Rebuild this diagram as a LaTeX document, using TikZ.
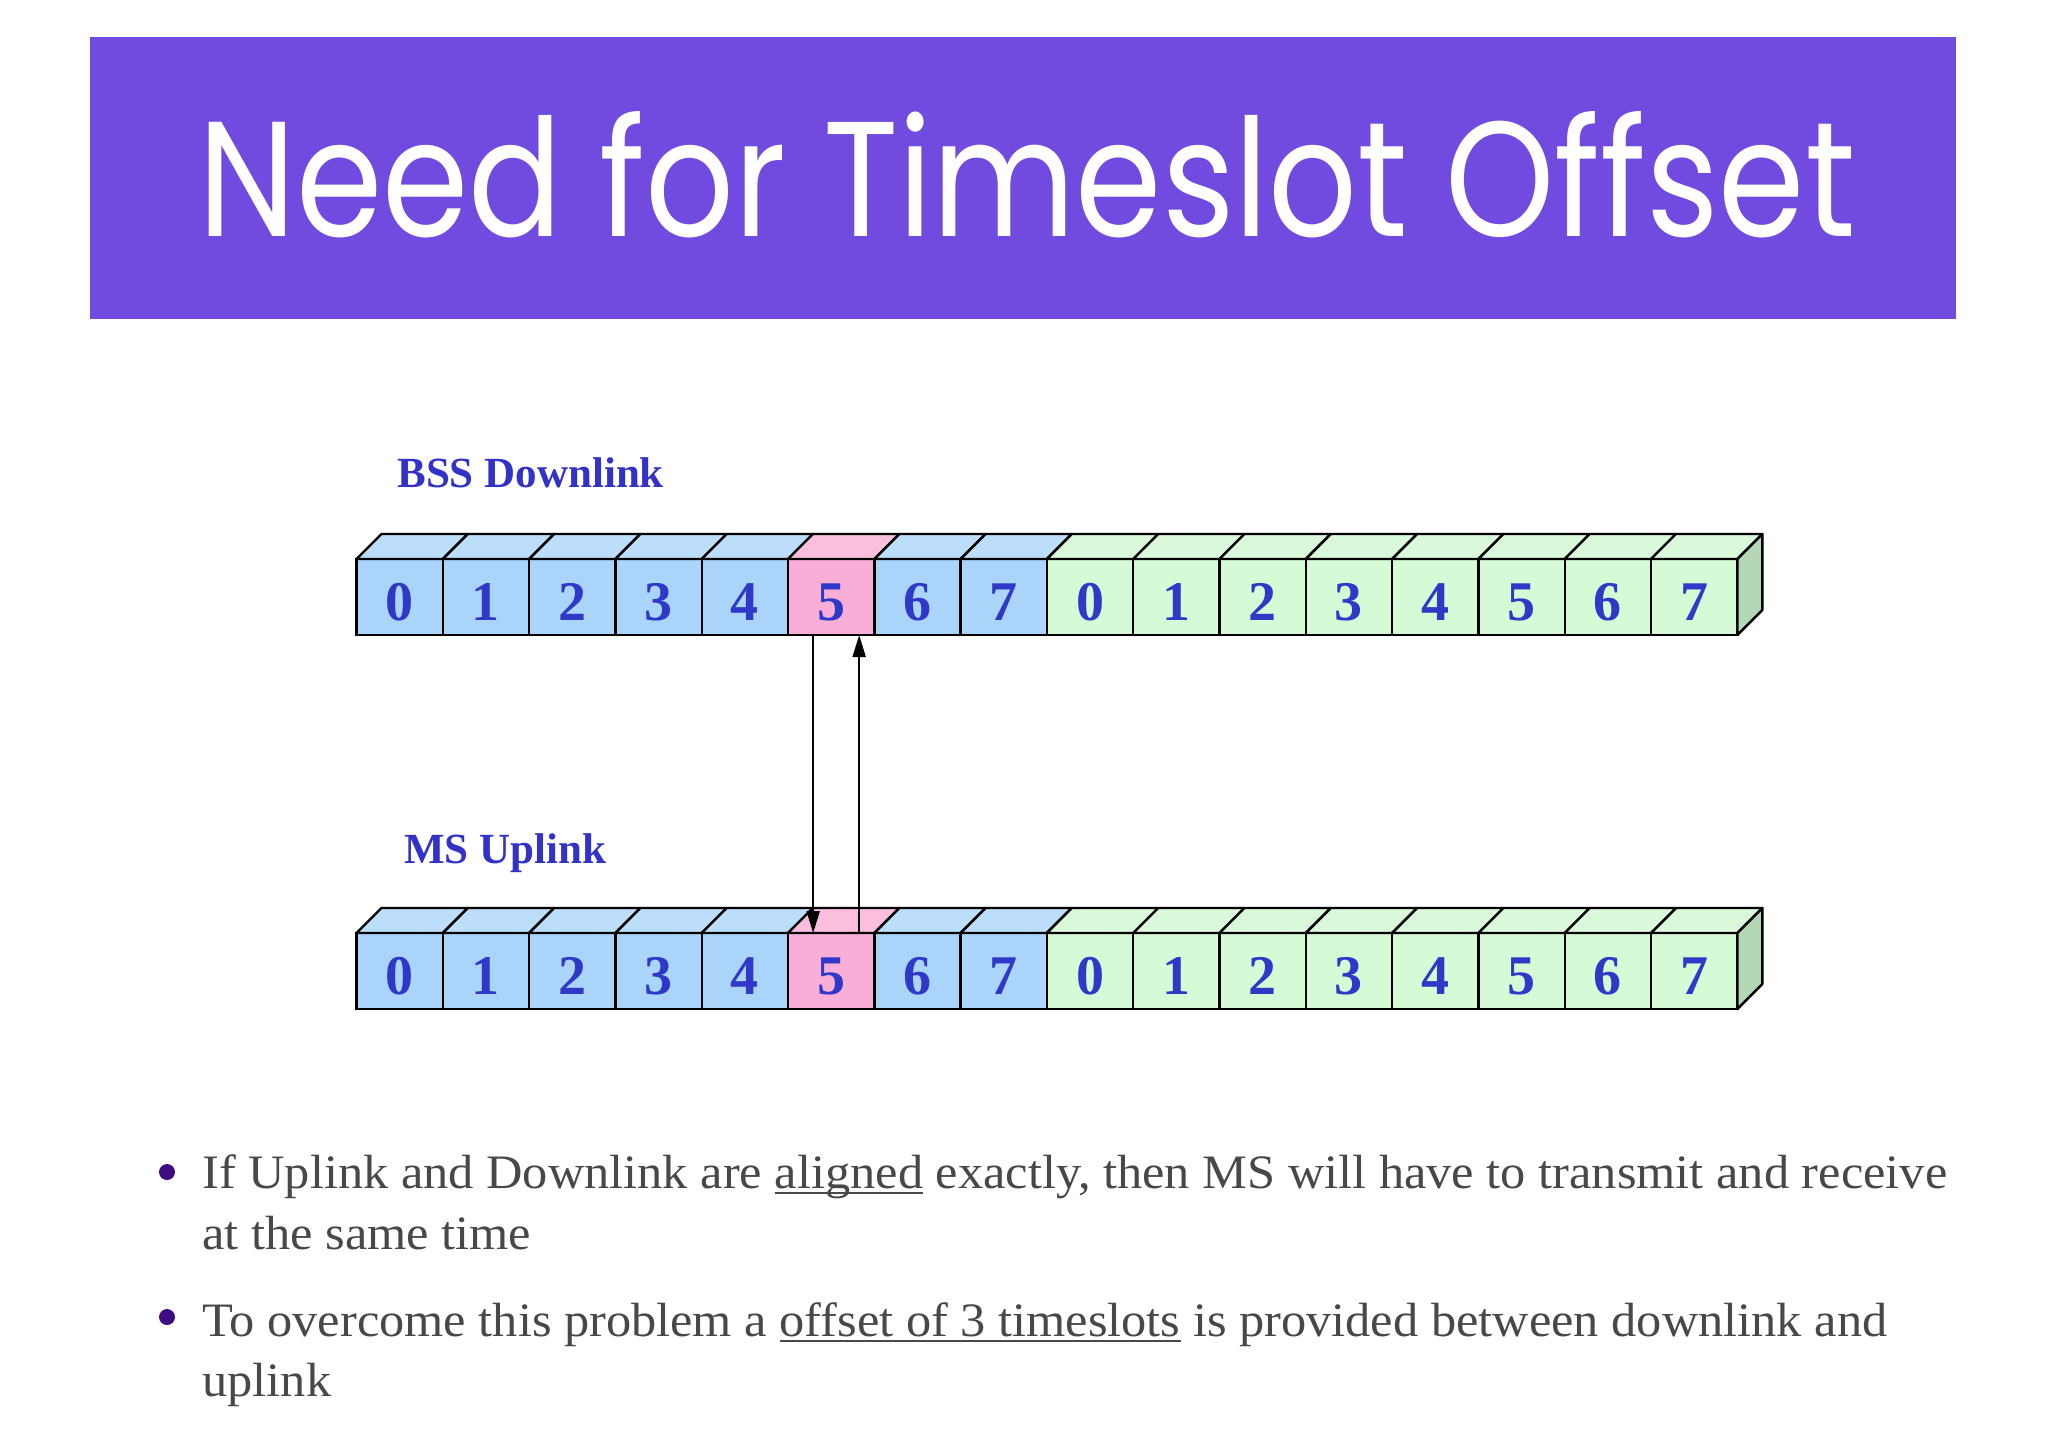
\documentclass[tikz,border=0pt]{standalone}
\usepackage{fontspec}
\usepackage{graphicx}
\usetikzlibrary{arrows.meta}
\newfontfamily\titlefont{Poppins}
\newfontfamily\tnr{Liberation Serif}
\newfontfamily\bodyfont[FakeStretch=1.05]{Liberation Serif}
\definecolor{banner}{RGB}{113,74,224}
\definecolor{blueF}{RGB}{170,212,250}
\definecolor{blueT}{RGB}{188,222,251}
\definecolor{pinkF}{RGB}{249,174,216}
\definecolor{pinkT}{RGB}{251,190,221}
\definecolor{greenF}{RGB}{213,250,213}
\definecolor{greenT}{RGB}{218,248,218}
\definecolor{sideG}{RGB}{180,216,182}
\definecolor{digitblue}{RGB}{48,56,200}
\definecolor{labelblue}{RGB}{50,50,200}
\definecolor{bodygray}{RGB}{72,72,72}
\definecolor{bulletpurple}{RGB}{62,12,130}
\newcommand\ulx[1]{\setbox0=\hbox{#1}\rlap{\rule[-3pt]{\wd0}{1pt}}\box0\relax}
\begin{document}
\begin{tikzpicture}[x=0.5pt,y=-0.5pt,
  cellbox/.style={draw, line width=1.2pt, minimum width=43.15pt, minimum height=38pt,
    inner sep=0pt, outer sep=0pt, text height=23pt, text depth=0pt, text=digitblue,
    font=\tnr\bfseries\fontsize{28pt}{28pt}\selectfont},
  facestroke/.style={draw, line width=1.2pt, line join=round},
  rowlabel/.style={anchor=base west, inner sep=0pt, text=labelblue,
    font=\tnr\bfseries\fontsize{21.5pt}{22pt}\selectfont},
  bodytext/.style={anchor=base west, inner sep=0pt, text=bodygray,
    font=\bodyfont\fontsize{24pt}{28pt}\selectfont},
  bulletdot/.style={circle, fill=bulletpurple, minimum size=8pt, inner sep=0pt},
  arr/.style={line width=1pt, -{Triangle[length=11pt,width=6.5pt]}}]
\fill[white] (0,0) rectangle (2048,1448);
\useasboundingbox (0,0) rectangle (2048,1448);
% title banner
\fill[banner] (90,37) rectangle (1956,319);
\node[anchor=base west, inner sep=0pt, text=white] (title) at (198,236)
  {\resizebox{828.5pt}{62.5pt}{\titlefont Need for Timeslot Offset}};
% row labels
\node[rowlabel] (bsslabel) at (397,487) {BSS Downlink};
\node[rowlabel] (mslabel) at (404,863) {MS Uplink};
% rows of timeslots
\foreach \r/\yc in {t/597, b/971} {
  \foreach \i in {0,...,15} {
    \pgfmathtruncatemacro\d{mod(\i,8)}
    \ifnum\i=5 \def\fc{pinkF}\def\tc{pinkT}\else\ifnum\i<8 \def\fc{blueF}\def\tc{blueT}\else\def\fc{greenF}\def\tc{greenT}\fi\fi
    \node[cellbox, fill=\fc] (\r\i) at ({356.5+86.3*(\i+0.5)}, \yc) {\d};
    \filldraw[fill=\tc, facestroke] (\r\i.north west) -- ++(25,-25)
      -- ([shift={(25,-25)}]\r\i.north east) -- (\r\i.north east) -- cycle;
  }
  \filldraw[fill=sideG, facestroke] (\r15.north east) -- ++(25,-25)
    -- ([shift={(25,-25)}]\r15.south east) -- (\r15.south east) -- cycle;
}
% arrows
\draw[arr] ([xshift=-9pt]t5.south) -- ([xshift=-9pt]b5.north);
\draw[arr] ([xshift=14pt]b5.north) -- ([xshift=14pt]t5.south);
% bullets
\node[bulletdot] (dot1) at (167,1172) {};
\node[bodytext] (b1a) at (202,1188) {If Uplink and Downlink are \ulx{aligned} exactly, then MS will have to transmit and receive};
\node[bodytext] (b1b) at (202,1249) {at the same time};
\node[bulletdot] (dot2) at (167,1317) {};
\node[bodytext] (b2a) at (202,1336) {To overcome this problem a \ulx{offset of 3 timeslots} is provided between downlink and};
\node[bodytext] (b2b) at (202,1396) {uplink};
\end{tikzpicture}
\end{document}
